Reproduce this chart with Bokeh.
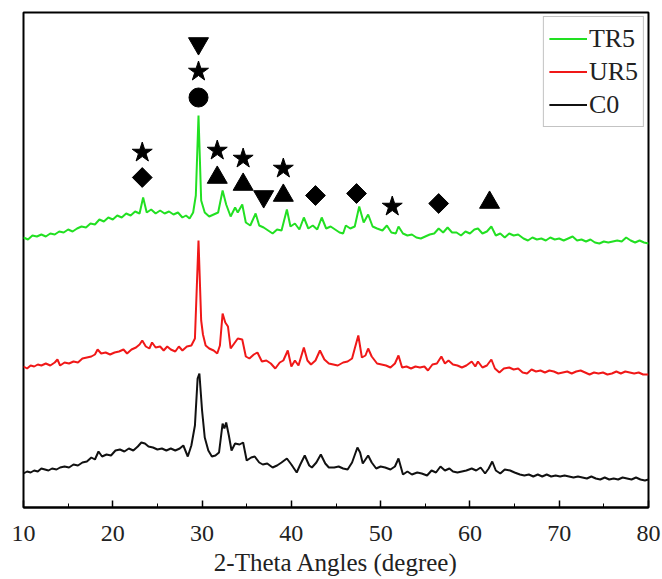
import math
from bokeh.plotting import figure
from bokeh.models import Range1d, FixedTicker
from bokeh.embed import file_html
from bokeh.resources import INLINE

# ---------------- data (2-Theta in degrees, intensity in arbitrary units, curves offset) ----------------
tr5_x = [10.0, 10.5, 11.0, 11.5, 12.0, 12.5, 13.0, 13.5, 14.0, 14.5, 15.0, 15.5, 16.0, 16.5, 17.0, 17.5,
         18.0, 18.5, 19.0, 19.5, 20.0, 20.5, 21.0, 21.5, 22.0, 22.5, 23.0, 23.4, 23.8, 24.3, 24.8, 25.3,
         25.8, 26.3, 26.8, 27.3, 27.8, 28.2, 28.6, 29.0, 29.3, 29.6, 29.9, 30.3, 30.8, 31.3, 31.8, 32.3,
         32.7, 33.2, 33.7, 34.0, 34.5, 34.9, 35.4, 36.0, 36.4, 36.9, 37.4, 37.9, 38.4, 38.9, 39.5, 39.9,
         40.4, 40.9, 41.4, 41.9, 42.4, 42.9, 43.4, 43.9, 44.4, 44.9, 45.4, 45.8, 46.1, 46.6, 47.1, 47.6,
         48.1, 48.6, 49.1, 49.6, 50.2, 50.7, 51.2, 51.7, 52.0, 52.5, 53.0, 53.5, 54.0, 54.5, 55.0, 55.5,
         56.0, 56.5, 57.0, 57.5, 58.0, 58.5, 59.0, 59.5, 60.0, 60.5, 60.9, 61.4, 61.9, 62.4, 62.9, 63.4,
         63.9, 64.4, 64.9, 65.4, 66.0, 66.5, 67.0, 67.5, 68.0, 68.5, 69.0, 69.5, 70.0, 70.5, 71.0, 71.5,
         72.0, 72.5, 73.0, 73.5, 74.0, 74.5, 75.0, 75.5, 76.0, 76.5, 77.0, 77.5, 78.0, 78.5, 79.0, 79.5, 80.0]
tr5_y = [270, 268, 272, 271, 273, 271, 274, 273, 276, 275, 278, 276, 279, 281, 280, 284,
         283, 288, 286, 290, 288, 292, 290, 294, 292, 296, 294, 310, 295, 298, 294, 297,
         294, 296, 293, 295, 290, 292, 289, 295, 312, 392, 307, 295, 291, 293, 295, 317,
         303, 291, 300, 295, 303, 285, 282, 294, 282, 280, 277, 274, 278, 277, 298, 281,
         284, 278, 290, 279, 282, 278, 290, 279, 281, 278, 275, 274, 282, 279, 281, 301,
         285, 293, 281, 279, 277, 282, 275, 274, 281, 274, 272, 273, 270, 269, 271, 273,
         274, 279, 275, 280, 275, 275, 272, 276, 274, 278, 279, 274, 276, 281, 272, 274,
         270, 274, 272, 273, 269, 267, 270, 268, 269, 267, 270, 268, 269, 267, 269, 271,
         267, 268, 266, 268, 265, 264, 266, 265, 266, 267, 266, 270, 267, 265, 267, 265, 264]

ur5_x = [10.0, 10.4, 10.8, 11.2, 11.6, 12.0, 12.5, 13.0, 13.5, 13.8, 14.1, 14.6, 15.1, 15.6, 16.1, 16.6,
         17.1, 17.6, 18.0, 18.3, 18.7, 19.2, 19.7, 20.2, 20.7, 21.2, 21.6, 22.1, 22.6, 23.0, 23.3, 23.7,
         24.1, 24.4, 24.8, 25.3, 25.7, 26.1, 26.5, 27.0, 27.4, 27.8, 28.3, 28.8, 29.2, 29.6, 29.9, 30.1,
         30.4, 30.8, 31.3, 31.7, 32.0, 32.3, 32.6, 32.9, 33.2, 33.6, 34.0, 34.5, 34.9, 35.3, 35.8, 36.2,
         36.7, 37.2, 37.7, 38.2, 38.7, 39.1, 39.6, 40.0, 40.4, 40.8, 41.4, 41.8, 42.2, 42.7, 43.2, 43.7,
         44.2, 44.7, 45.2, 45.8, 46.3, 46.8, 47.1, 47.5, 47.9, 48.3, 48.6, 49.0, 49.6, 50.1, 50.6, 51.1,
         51.6, 52.0, 52.4, 52.9, 53.4, 53.9, 54.4, 54.9, 55.3, 55.8, 56.3, 56.8, 57.2, 57.6, 58.1, 58.6,
         59.1, 59.6, 60.2, 60.6, 60.9, 61.4, 61.9, 62.4, 62.8, 63.3, 63.8, 64.4, 64.9, 65.4, 65.9, 66.4,
         66.9, 67.4, 67.9, 68.4, 68.9, 69.4, 69.9, 70.4, 70.9, 71.4, 71.9, 72.4, 72.9, 73.4, 73.9, 74.4,
         74.9, 75.4, 75.9, 76.4, 76.9, 77.4, 77.9, 78.4, 78.9, 79.4, 80.0]
ur5_y = [141, 139, 142, 141, 143, 142, 144, 142, 145, 148, 142, 145, 144, 146, 145, 149,
         150, 151, 153, 158, 154, 155, 153, 155, 156, 158, 154, 158, 160, 163, 167, 161,
         159, 165, 160, 161, 157, 161, 158, 156, 161, 157, 161, 162, 169, 267, 187, 173,
         162, 159, 157, 154, 162, 194, 185, 181, 159, 164, 169, 168, 151, 149, 153, 155,
         146, 147, 144, 139, 145, 147, 157, 141, 147, 142, 160, 147, 143, 147, 157, 148,
         144, 143, 142, 145, 146, 149, 159, 172, 150, 152, 159, 151, 144, 143, 142, 140,
         144, 152, 140, 141, 139, 141, 140, 141, 137, 143, 144, 151, 144, 147, 143, 142,
         140, 142, 146, 141, 146, 140, 142, 148, 139, 135, 139, 140, 138, 139, 135, 134,
         138, 136, 137, 135, 137, 136, 134, 135, 136, 134, 136, 137, 135, 133, 135, 134,
         135, 133, 134, 136, 134, 136, 135, 134, 135, 133, 133]

c0_x = [10.0, 10.4, 10.8, 11.2, 11.6, 12.0, 12.4, 12.8, 13.2, 13.7, 14.1, 14.6, 15.1, 15.6, 16.1, 16.6,
        17.1, 17.6, 18.0, 18.4, 18.8, 19.3, 19.8, 20.3, 20.8, 21.3, 21.8, 22.3, 22.8, 23.2, 23.6, 24.0,
        24.5, 25.0, 25.5, 26.0, 26.5, 27.0, 27.5, 27.9, 28.4, 28.8, 29.2, 29.5, 29.7, 30.0, 30.3, 30.7,
        31.1, 31.5, 31.9, 32.3, 32.5, 32.7, 33.0, 33.3, 33.7, 34.2, 34.6, 35.0, 35.5, 35.9, 36.4, 36.8,
        37.3, 37.9, 38.4, 38.9, 39.5, 40.0, 40.6, 41.0, 41.5, 42.0, 42.3, 42.8, 43.3, 43.8, 44.2, 44.8,
        45.3, 45.8, 46.3, 46.8, 47.4, 47.7, 48.0, 48.6, 49.0, 49.5, 50.0, 50.5, 51.1, 51.6, 52.0, 52.5,
        53.0, 53.5, 54.1, 54.6, 55.2, 55.7, 56.2, 56.7, 57.2, 57.7, 58.1, 58.6, 59.1, 59.6, 60.2, 60.7,
        61.2, 61.7, 62.1, 62.5, 62.9, 63.4, 63.9, 64.5, 65.0, 65.6, 66.1, 66.6, 67.1, 67.6, 68.1, 68.6,
        69.1, 69.6, 70.1, 70.6, 71.1, 71.6, 72.1, 72.6, 73.1, 73.6, 74.1, 74.6, 75.1, 75.6, 76.1, 76.6,
        77.1, 77.6, 78.1, 78.6, 79.1, 79.6, 80.0]
c0_y = [34, 36, 35, 37, 36, 39, 38, 37, 39, 38, 40, 41, 40, 43, 42, 45,
        46, 50, 48, 56, 51, 53, 52, 57, 58, 56, 59, 57, 61, 65, 64, 61,
        60, 58, 59, 57, 59, 57, 59, 62, 51, 62, 82, 129, 134, 97, 70, 57,
        51, 52, 55, 84, 79, 85, 72, 57, 64, 63, 65, 47, 50, 51, 45, 43,
        44, 40, 42, 45, 49, 43, 35, 43, 52, 42, 40, 45, 53, 44, 40, 40,
        41, 39, 38, 45, 60, 55, 44, 52, 45, 39, 41, 40, 38, 41, 49, 33,
        36, 33, 35, 34, 32, 37, 35, 41, 37, 39, 36, 35, 36, 37, 39, 37,
        40, 34, 39, 46, 37, 34, 38, 37, 35, 33, 32, 33, 31, 33, 31, 33,
        31, 32, 31, 32, 31, 30, 31, 30, 29, 31, 29, 28, 30, 28, 29, 28,
        30, 29, 28, 30, 28, 27, 28]

# phase markers above peaks
star_x = [29.6, 23.3, 31.7, 34.6, 39.1, 51.3]
star_y = [436, 355, 357, 349, 339, 301]
diamond_x = [23.3, 42.7, 47.3, 56.5]
diamond_y = [330, 312, 314, 304]
triangle_x = [31.7, 34.6, 39.1, 62.2]
triangle_y = [330, 323, 312, 305]
down_x = [29.6, 36.9]
down_y = [464, 311]
circle_x = [29.6]
circle_y = [410]

x_ticks = [10, 20, 30, 40, 50, 60, 70, 80]

SERIF = "Liberation Serif"

p = figure(width=662, height=579, output_backend="svg", toolbar_location=None,
           x_range=Range1d(10, 80), y_range=Range1d(0, 495),
           min_border_left=23, min_border_right=14, min_border_top=12, min_border_bottom=72)
p.background_fill_color = "white"
p.border_fill_color = "white"
p.outline_line_color = "black"
p.outline_line_width = 2
p.xgrid.visible = False
p.ygrid.visible = False
p.yaxis.visible = False

ax = p.xaxis[0]
ax.ticker = FixedTicker(ticks=x_ticks, minor_ticks=[15, 25, 35, 45, 55, 65, 75])
ax.major_tick_in = 7
ax.major_tick_out = 0
ax.minor_tick_in = 4
ax.minor_tick_out = 0
ax.major_tick_line_color = "black"
ax.minor_tick_line_color = "black"
ax.major_tick_line_width = 1.5
ax.axis_line_color = "black"
ax.axis_line_width = 2
ax.major_label_text_font = SERIF
ax.major_label_text_font_size = "24px"
ax.major_label_text_color = "#222222"
ax.major_label_standoff = 18
ax.axis_label = "2-Theta Angles (degree)"
ax.axis_label_text_font = SERIF
ax.axis_label_text_font_size = "25px"
ax.axis_label_text_font_style = "normal"
ax.axis_label_text_color = "#222222"
ax.axis_label_standoff = 5

p.line(tr5_x, tr5_y, line_color="#22e022", line_width=2, legend_label="TR5")
p.line(ur5_x, ur5_y, line_color="#f01818", line_width=2, legend_label="UR5")
p.line(c0_x, c0_y, line_color="#111111", line_width=2, legend_label="C0")

p.scatter(star_x, star_y, marker="star", size=21, fill_color="black", line_color="black")
p.scatter(diamond_x, diamond_y, marker="square", size=14, angle=math.pi / 4,
          fill_color="black", line_color="black")
p.scatter(triangle_x, triangle_y, marker="triangle", size=20, fill_color="black", line_color="black")
p.scatter(down_x, down_y, marker="inverted_triangle", size=20, fill_color="black", line_color="black")
p.scatter(circle_x, circle_y, marker="circle", size=19, fill_color="black", line_color="black")

lg = p.legend[0]
lg.location = "top_right"
lg.margin = 4
lg.padding = 5
lg.spacing = 0
lg.label_height = 33
lg.glyph_height = 33
lg.glyph_width = 38
lg.label_standoff = 2
lg.label_text_font = SERIF
lg.label_text_font_size = "26px"
lg.label_text_color = "#222222"
lg.border_line_color = "#888888"
lg.border_line_width = 1
lg.background_fill_color = "white"
lg.background_fill_alpha = 1.0

open("out.html", "w").write(file_html(p, INLINE))
